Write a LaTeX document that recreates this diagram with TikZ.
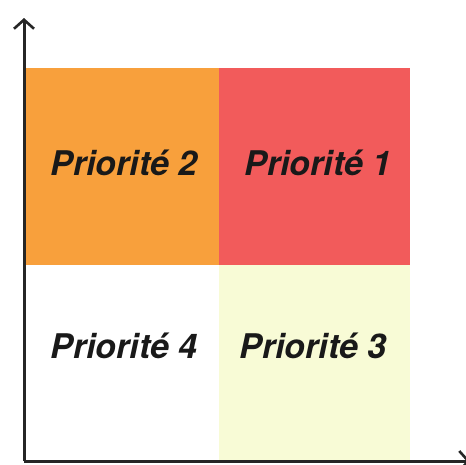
\documentclass[tikz,border=0pt]{standalone}
\usepackage{fontspec}
\setmainfont{TeX Gyre Heros}
\usetikzlibrary{arrows.meta}
\definecolor{orangeP}{HTML}{F8A03C}
\definecolor{redP}{HTML}{F25B5B}
\definecolor{yellowP}{HTML}{F8FBD6}
\tikzset{
  lbl/.style={font=\fontsize{34}{40}\selectfont\bfseries\itshape, text=black!90, anchor=base, inner sep=0pt},
  axis/.style={line width=3pt, draw=black!85, -{Straight Barb[length=9pt,width=20pt,line width=2.6pt]}}
}
\begin{document}
\begin{tikzpicture}[x=1pt,y=-1pt]
\useasboundingbox (0,0) rectangle (466,464);
\fill[white] (0,0) rectangle (466,464);
\fill[orangeP] (24,68) rectangle (219,265);
\fill[redP] (219,68) rectangle (410,265);
\fill[yellowP] (219,265) rectangle (410,460);
\node[lbl] (p2) at (124,175) {Priorité 2};
\node[lbl] (p1) at (318,175) {Priorité 1};
\node[lbl] (p4) at (124,358) {Priorité 4};
\node[lbl] (p3) at (313,358) {Priorité 3};
\coordinate (o) at (24,461);
\coordinate (ytop) at (24,18);
\coordinate (xend) at (470,461);
\draw[axis] (o) -- (ytop);
\draw[axis] (o) -- (xend);
\end{tikzpicture}
\end{document}
